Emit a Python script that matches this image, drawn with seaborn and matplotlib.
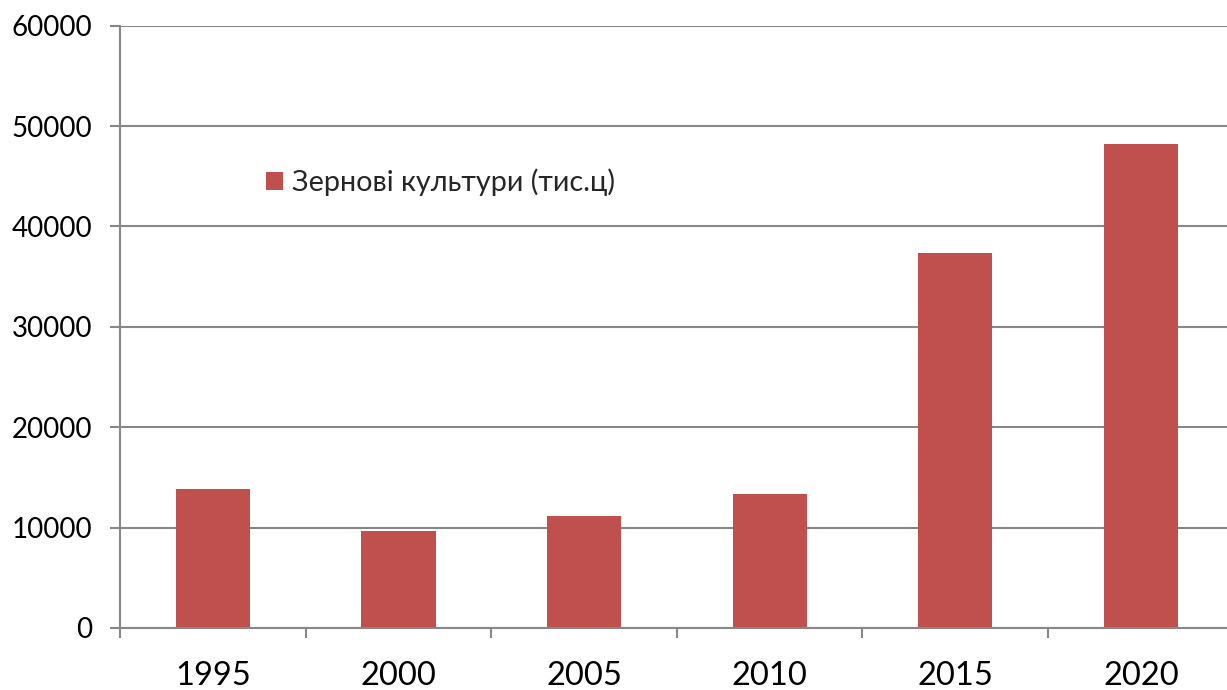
import matplotlib
matplotlib.use("Agg")
import matplotlib.pyplot as plt
import seaborn as sns
import pandas as pd
import numpy as np

years = ["1995", "2000", "2005", "2010", "2015", "2020"]
values = [13800, 9700, 11200, 13300, 37400, 48200]
series_name = "Зернові культури (тис.ц)"
y_ticks = [0, 10000, 20000, 30000, 40000, 50000, 60000]

sns.set_style("white")
plt.rcParams['font.family'] = ['Lato', 'DejaVu Sans']

df = pd.DataFrame({"year": years, "value": values, "series": series_name})

fig = plt.figure(figsize=(12.27, 6.9), dpi=100)
ax = fig.add_axes([0.0978, 0.0899, 0.9077, 0.8729])

sns.barplot(data=df, x="year", y="value", hue="series", palette=["#C0504D"],
            width=0.4, ax=ax, saturation=1, edgecolor="none")

grid_c = "#878787"
ax.set_ylim(0, 60000)
ax.set_xlim(-0.5, len(years) - 0.5)
ax.set_yticks(y_ticks)
ax.set_yticklabels([str(v) for v in y_ticks], fontsize=20)
ax.yaxis.grid(True, color=grid_c, linewidth=1.5)
ax.set_axisbelow(True)

for s in ["top", "right"]:
    ax.spines[s].set_visible(False)
for s in ["left", "bottom"]:
    ax.spines[s].set_color(grid_c)
    ax.spines[s].set_linewidth(1.5)

ax.tick_params(axis="y", which="major", direction="out", length=7, width=1.5,
               color=grid_c, left=True, pad=13, labelcolor="black")
ax.set_xticks(np.arange(len(years)))
ax.set_xticklabels(years, fontsize=23.5)
ax.tick_params(axis="x", which="major", length=0, pad=24, labelcolor="black")
ax.set_xticks(np.arange(-0.5, len(years)), minor=True)
ax.tick_params(axis="x", which="minor", direction="out", length=7, width=1.5,
               color=grid_c, bottom=True)

ax.set_xlabel("")
ax.set_ylabel("")

leg = ax.legend(loc="center left", bbox_to_anchor=(0.108, 0.74), frameon=False,
                fontsize=20.7, handlelength=0.6, handleheight=0.6, handletextpad=0.3)

fig.savefig("out.png", dpi=100)
